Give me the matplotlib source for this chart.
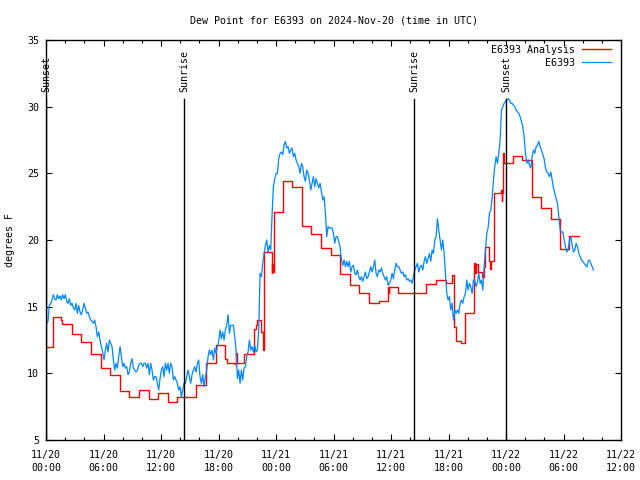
import matplotlib
matplotlib.use("Agg")
import matplotlib.pyplot as plt
import matplotlib.dates as mdates
import numpy as np
import pandas as pd

plt.rcParams['font.family'] = ['DejaVu Sans Mono']

TITLE = "Dew Point for E6393 on 2024-Nov-20 (time in UTC)"
START = pd.Timestamp("2024-11-20 00:00")

# Observed series (E6393), samples every ~8.35 minutes starting 00:04 UTC
obs_step_min = 8.35
obs_start_min = 4.2
obs_vals = [
    13.75, 13.9, 15.1, 15.25, 15.5, 15.9, 15.6, 15.5, 15.9, 15.6, 15.8, 15.5, 15.9, 15.6, 15.9, 15.4,
    15.25, 15.6, 15.1, 15.25, 14.9, 14.75, 15.25, 14.5, 15.1, 14.6, 14.4, 14.75, 15.25, 14.9, 14.5, 14.6,
    14.25, 14.0, 13.9, 13.75, 14.0, 13.5, 12.75, 13.1, 12.5, 12.0, 11.6, 11.0, 11.75, 12.25, 11.6, 12.5,
    12.25, 12.0, 11.0, 10.25, 10.75, 10.4, 11.25, 12.0, 11.25, 10.5, 10.75, 10.4, 10.5, 9.9, 10.1, 10.75,
    11.1, 10.4, 10.25, 10.1, 10.25, 10.6, 10.75, 10.75, 10.5, 10.75, 10.75, 10.4, 10.75, 9.9, 10.75, 10.25,
    9.5, 9.75, 9.75, 9.25, 8.75, 9.6, 10.25, 10.5, 9.75, 10.75, 10.25, 10.75, 10.0, 10.75, 10.5, 9.5,
    9.75, 9.5, 9.25, 8.75, 9.0, 8.25, 8.75, 9.25, 9.25, 9.75, 10.25, 9.75, 9.25, 9.9, 10.25, 10.5,
    10.1, 10.75, 11.0, 9.75, 9.25, 9.9, 9.0, 9.75, 10.25, 11.25, 11.75, 11.4, 11.75, 11.0, 11.9, 11.5,
    12.0, 12.4, 13.25, 12.6, 13.1, 12.5, 13.25, 13.6, 14.4, 13.0, 13.6, 13.6, 13.6, 12.75, 11.75, 9.6,
    10.25, 9.25, 10.25, 9.5, 10.4, 10.5, 11.25, 11.6, 12.5, 11.75, 12.0, 11.6, 12.1, 11.6, 11.75, 13.25,
    17.5, 17.25, 18.25, 19.0, 19.6, 20.0, 19.1, 19.6, 19.25, 21.9, 24.0, 24.6, 25.0, 25.0, 26.1, 26.5,
    26.6, 26.4, 27.1, 27.4, 26.9, 27.0, 26.5, 26.75, 26.9, 26.25, 26.5, 26.0, 25.75, 25.5, 25.0, 25.75,
    25.5, 24.75, 24.4, 25.25, 25.0, 24.5, 23.75, 24.25, 24.75, 24.0, 24.6, 24.25, 23.9, 24.25, 23.6, 23.0,
    23.25, 22.0, 20.25, 21.0, 20.9, 20.9, 20.9,
    20.5, 19.75, 20.25, 20.25, 19.9, 19.5, 18.5, 18.1, 18.5, 18.0, 18.4, 18.0, 18.4, 17.6, 18.0, 18.1,
    17.5, 17.4, 17.75, 17.25, 17.0, 17.25, 16.9, 17.25, 17.6, 17.1, 17.25, 17.6, 18.0, 17.6, 18.0, 18.5,
    17.5, 17.25, 17.75, 17.6, 17.9, 17.5, 17.25, 17.0, 17.25, 16.6, 16.75, 17.0, 17.5, 17.1, 17.75, 18.25,
    18.0, 18.0, 17.75, 17.5, 17.6, 17.25, 17.4, 17.0, 17.1, 16.9, 17.0, 16.75, 17.25, 17.75, 18.0, 18.25,
    17.6, 18.0, 18.1, 17.75, 18.4, 18.75, 18.25, 18.6, 19.0, 18.4, 19.25, 19.0, 20.0, 20.25, 21.6, 20.75,
    20.0, 19.25, 20.0, 19.0, 17.5, 16.0, 15.5, 15.75, 14.75, 15.25, 14.0, 14.75, 14.5, 14.75, 14.5, 15.25,
    15.5, 15.25, 15.75, 16.0, 17.0, 16.25, 16.75, 16.5, 16.0, 17.0, 16.9, 16.5, 16.9, 17.5, 16.75, 17.0,
    16.25, 18.0, 19.25, 20.5, 20.9, 22.0, 22.25, 23.1, 24.5, 25.5, 26.25, 25.75, 26.5, 27.5, 29.75, 30.0,
    30.25, 30.4, 30.5, 30.6, 30.5, 30.25, 30.25, 30.1, 30.0, 29.75, 29.6, 29.5, 29.25, 28.9, 28.5, 27.75,
    26.5, 25.75, 26.0, 25.6, 25.4, 26.25, 26.75, 26.5, 27.0, 27.1, 27.4, 27.0, 26.75, 26.4, 26.1, 25.4,
    25.1, 25.0, 24.75, 25.1, 24.5, 23.9, 23.5, 23.1, 22.75, 21.75, 20.75, 20.6, 20.6, 20.0, 19.5, 19.1,
    19.25, 20.0, 20.25, 19.6, 19.1, 19.25, 19.75, 19.5, 19.0, 18.75, 18.5, 18.4, 18.25, 18.1, 18.0, 18.4,
    18.5, 18.25, 18.0, 17.75,
]

# Analysis series (E6393 Analysis): hours after start, value (step)
ana_hours = [0.0, 0.7, 1.6, 1.7, 2.7, 3.7, 4.7, 5.7, 6.7, 7.7, 8.7, 9.7, 10.7, 11.7, 12.7, 13.7,
             15.7, 16.7, 17.7, 18.7, 18.9, 19.7, 19.8, 19.9, 20.7, 21.7, 21.9, 22.05, 22.4, 22.64,
             22.75, 23.55, 23.62, 23.7, 23.8, 24.7, 25.7, 26.7, 27.7, 28.7, 29.7, 30.7, 31.7, 32.7,
             33.7, 34.7, 35.7, 35.75, 35.8, 36.7, 39.7, 40.7, 41.7, 42.4, 42.6, 42.75, 43.3, 43.7,
             44.7, 44.8, 44.9, 45.1, 45.5, 45.7, 45.85, 46.2, 46.3, 46.4, 46.7, 47.5, 47.55, 47.6,
             47.65, 47.8, 48.7, 49.7, 50.7, 51.7, 52.7, 53.6, 54.6, 55.65]
ana_vals = [12.0, 14.25, 14.0, 13.7, 12.95, 12.33, 11.45, 10.38, 9.9, 8.68, 8.2, 8.75, 8.05, 8.5, 7.83, 8.2,
            9.1, 10.75, 12.1, 11.1, 10.8, 10.7, 11.5, 10.75, 11.45, 13.3, 13.6, 14.0, 13.1, 11.75,
            19.1, 17.55, 18.2, 17.6, 22.1, 24.4, 24.0, 21.05, 20.45, 19.4, 18.85, 17.43, 16.6, 16.0,
            15.25, 15.4, 16.45, 16.0, 16.45, 16.05, 16.7, 16.98, 16.8, 17.4, 13.5, 12.4, 12.25, 14.5,
            18.25, 17.5, 18.2, 17.6, 17.25, 18.0, 19.5, 18.4, 17.8, 18.4, 23.5, 23.75, 22.9, 23.5,
            26.55, 25.75, 26.3, 26.0, 23.2, 22.4, 21.55, 19.3, 20.3, 20.3]

# Sun events
event_times = ["2024-11-20 00:03", "2024-11-20 14:26", "2024-11-21 14:26", "2024-11-22 00:02"]
event_labels = ["Sunset", "Sunrise", "Sunrise", "Sunset"]

y_ticks = [5, 10, 15, 20, 25, 30, 35]

obs_t = START + pd.to_timedelta(obs_start_min + obs_step_min * np.arange(len(obs_vals)), unit="min")
ana_t = START + pd.to_timedelta(np.array(ana_hours), unit="h")

FS = 7.2
fig = plt.figure(figsize=(6.4, 4.8), dpi=100)
ax = fig.add_axes([46/640, 40/480, (621-46)/640, 400/480])

ax.plot(ana_t, ana_vals, color="#ff0000", lw=1.0, drawstyle="steps-post", label="E6393 Analysis")
ax.plot(obs_t, obs_vals, color="#0088ff", lw=0.9, label="E6393")

for t, lab in zip(event_times, event_labels):
    tt = pd.Timestamp(t)
    ax.axvline(tt, ymin=0, ymax=0.853, color="black", lw=1.0)
    ax.text(tt, 0.87, lab, transform=ax.get_xaxis_transform(), rotation=90,
            ha="center", va="bottom", fontsize=FS)

ax.set_xlim(START, START + pd.Timedelta(hours=60))
ax.set_ylim(5, 35)
ax.set_yticks(y_ticks)
ax.xaxis.set_major_locator(mdates.HourLocator(byhour=[0, 6, 12, 18]))
ax.xaxis.set_minor_locator(mdates.HourLocator(byhour=range(0, 24, 2)))
ax.xaxis.set_major_formatter(mdates.DateFormatter("%m/%d\n%H:%M"))
ax.tick_params(which="both", direction="in", top=True, right=True, labelsize=FS, width=0.8)
ax.tick_params(which="major", length=4)
ax.tick_params(which="minor", length=2)
ax.tick_params(axis="x", pad=7)
ax.tick_params(axis="y", pad=5)
for s in ax.spines.values():
    s.set_linewidth(1.0)

ax.set_title(TITLE, fontsize=FS, pad=12)
fig.text(10/640, 0.5, "degrees F", rotation=90, ha="center", va="center", fontsize=FS)

leg = ax.legend(loc="upper right", bbox_to_anchor=(0.986, 0.9925), frameon=False,
                markerfirst=False, fontsize=FS, handlelength=2.9, handletextpad=0.7,
                labelspacing=0.3, borderaxespad=0.0, borderpad=0.2)
for t in leg.get_texts():
    t.set_ha("right")

fig.canvas.draw()
for lbl in ax.get_xticklabels():
    lbl.set_linespacing(1.45)

fig.savefig("out.png", dpi=100)
